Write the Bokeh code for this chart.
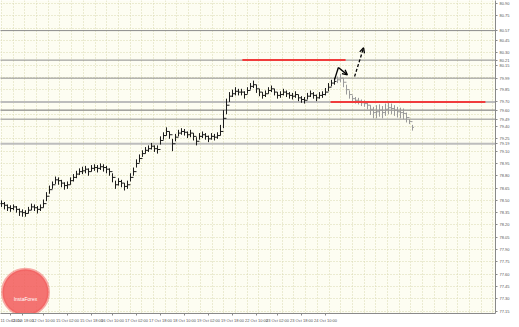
from bokeh.plotting import figure
from bokeh.models import Range1d, FixedTicker, Label, Arrow, OpenHead
from bokeh.embed import file_html
from bokeh.resources import INLINE

# ---------------- data ----------------
close = [
    78.46, 78.44, 78.41, 78.40, 78.42, 78.39, 78.36, 78.35, 78.34, 78.38,
    78.42, 78.41, 78.39, 78.41, 78.46, 78.55, 78.63, 78.69, 78.75, 78.74,
    78.71, 78.68, 78.69, 78.74, 78.78, 78.82, 78.85, 78.86, 78.88, 78.85,
    78.89, 78.90, 78.89, 78.91, 78.90, 78.88, 78.85, 78.78, 78.69, 78.73,
    78.71, 78.67, 78.69, 78.78, 78.85, 78.95, 79.01, 79.07, 79.11, 79.13,
    79.16, 79.13, 79.12, 79.23, 79.29, 79.34, 79.30, 79.19, 79.27, 79.32,
    79.34, 79.33, 79.30, 79.32, 79.28, 79.22, 79.28, 79.30, 79.28, 79.25,
    79.28, 79.27, 79.29, 79.34, 79.50, 79.66, 79.77, 79.80, 79.83, 79.82,
    79.82, 79.79, 79.84, 79.89, 79.91, 79.86, 79.82, 79.78, 79.80, 79.84,
    79.86, 79.82, 79.78, 79.79, 79.82, 79.80, 79.78, 79.77, 79.79, 79.75,
    79.73, 79.72, 79.77, 79.80, 79.78, 79.75, 79.78, 79.79, 79.82, 79.88,
    79.93, 79.95, 79.97, 79.99, 79.94, 79.85, 79.79, 79.74, 79.72, 79.71,
    79.69, 79.68, 79.66, 79.61, 79.57, 79.58, 79.60, 79.57, 79.61, 79.63,
    79.62, 79.60, 79.58, 79.57, 79.56, 79.51, 79.46, 79.39]
high = [
    78.50, 78.48, 78.45, 78.44, 78.45, 78.43, 78.40, 78.39, 78.38, 78.42,
    78.46, 78.45, 78.43, 78.45, 78.51, 78.60, 78.68, 78.73, 78.79, 78.78,
    78.75, 78.72, 78.73, 78.78, 78.82, 78.86, 78.89, 78.91, 78.92, 78.89,
    78.93, 78.94, 78.93, 78.95, 78.94, 78.92, 78.89, 78.83, 78.74, 78.77,
    78.75, 78.71, 78.74, 78.83, 78.90, 79.00, 79.06, 79.11, 79.15, 79.17,
    79.20, 79.17, 79.17, 79.28, 79.33, 79.39, 79.34, 79.25, 79.31, 79.36,
    79.38, 79.37, 79.34, 79.36, 79.32, 79.27, 79.32, 79.34, 79.32, 79.29,
    79.32, 79.31, 79.33, 79.42, 79.60, 79.74, 79.82, 79.85, 79.88, 79.86,
    79.86, 79.83, 79.88, 79.93, 79.96, 79.91, 79.86, 79.82, 79.84, 79.88,
    79.90, 79.86, 79.82, 79.83, 79.86, 79.84, 79.82, 79.81, 79.83, 79.79,
    79.77, 79.76, 79.81, 79.84, 79.82, 79.79, 79.82, 79.83, 79.87, 79.93,
    79.97, 79.99, 80.01, 80.04, 79.99, 79.91, 79.84, 79.78, 79.76, 79.75,
    79.73, 79.72, 79.70, 79.66, 79.64, 79.66, 79.67, 79.65, 79.68, 79.69,
    79.68, 79.66, 79.64, 79.63, 79.62, 79.57, 79.49, 79.42]
low = [
    78.42, 78.39, 78.37, 78.36, 78.38, 78.35, 78.31, 78.30, 78.30, 78.34,
    78.38, 78.37, 78.34, 78.37, 78.41, 78.49, 78.58, 78.64, 78.70, 78.69,
    78.66, 78.63, 78.64, 78.69, 78.73, 78.77, 78.81, 78.82, 78.83, 78.80,
    78.85, 78.86, 78.84, 78.87, 78.85, 78.83, 78.80, 78.72, 78.64, 78.68,
    78.66, 78.62, 78.64, 78.73, 78.80, 78.90, 78.96, 79.03, 79.07, 79.09,
    79.12, 79.09, 79.07, 79.18, 79.24, 79.29, 79.25, 79.10, 79.22, 79.28,
    79.30, 79.29, 79.26, 79.27, 79.23, 79.17, 79.24, 79.26, 79.24, 79.21,
    79.24, 79.23, 79.25, 79.29, 79.38, 79.55, 79.70, 79.76, 79.78, 79.78,
    79.78, 79.74, 79.80, 79.85, 79.87, 79.81, 79.77, 79.74, 79.76, 79.80,
    79.82, 79.78, 79.74, 79.75, 79.78, 79.76, 79.74, 79.73, 79.75, 79.71,
    79.69, 79.68, 79.73, 79.76, 79.74, 79.71, 79.74, 79.75, 79.78, 79.83,
    79.89, 79.91, 79.93, 79.94, 79.88, 79.79, 79.74, 79.70, 79.68, 79.67,
    79.65, 79.64, 79.61, 79.54, 79.50, 79.50, 79.52, 79.50, 79.53, 79.55,
    79.55, 79.53, 79.51, 79.50, 79.49, 79.45, 79.43, 79.35]
gray_from = 112  # bars from this index are drawn faded

time_labels = ["11 Oct 2012", "11 Oct 18:00", "12 Oct 10:00", "15 Oct 02:00",
               "15 Oct 18:00", "16 Oct 10:00", "17 Oct 02:00", "17 Oct 18:00",
               "18 Oct 10:00", "19 Oct 02:00", "19 Oct 18:00", "22 Oct 10:00",
               "23 Oct 02:00", "23 Oct 18:00", "24 Oct 10:00"]
time_pos = [3, 7, 14, 22, 30, 37, 45, 53, 61, 69, 77, 85, 92, 100, 108]

price_ticks = [77.15, 77.30, 77.45, 77.60, 77.75, 77.90, 78.05, 78.20, 78.35,
               78.50, 78.65, 78.80, 78.95, 79.10, 79.25, 79.40, 79.55, 79.70,
               79.85, 80.00, 80.15, 80.30, 80.45, 80.60, 80.75, 80.90]

levels = [80.57, 80.21, 79.99, 79.70, 79.60, 79.49, 79.19]
level_widths = [1, 1, 1, 2, 1, 1, 2]
level_colors = ["#8c8c8c", "#8c8c8c", "#8c8c8c", "#bdbdbd", "#6e6e6e", "#8c8c8c", "#bdbdbd"]

red_levels = [80.21, 79.70]
red_x0 = [80.3, 109.7]
red_x1 = [114.7, 161.3]

zig_x = [111.0, 112.3, 115.3]
zig_y = [79.97, 80.12, 80.03]
dash_x = [117.7, 120.7]
dash_y = [80.01, 80.36]

logo_x = 8
logo_y = 77.38

# ---------------- figure ----------------
p = figure(width=519, height=327, output_backend="svg", toolbar_location=None,
           x_range=Range1d(-0.33, 164.67), y_range=Range1d(77.120, 80.937),
           y_axis_location="right", min_border_left=0, min_border_top=0,
           min_border_right=24, min_border_bottom=14)
p.background_fill_color = "#fdfdf2"
p.border_fill_color = "white"
p.outline_line_color = None

# grid
p.xgrid.ticker = FixedTicker(ticks=[i * 3.9 for i in range(43)])
p.ygrid.ticker = FixedTicker(ticks=price_ticks)
for g in (p.xgrid, p.ygrid):
    g.grid_line_color = "#d8d8b0"
    g.grid_line_dash = "1 2"
    g.grid_line_width = 1

# axes: regular price ticks plus the marked level prices (those replace nearby ticks)
axis_ticks = sorted([t for t in price_ticks
                     if all(abs(t - lv) > 0.055 for lv in levels)] + levels)
xa = p.xaxis[0]
xa.ticker = FixedTicker(ticks=time_pos)
xa.major_label_overrides = {t: s for t, s in zip(time_pos, time_labels)}
ya = p.yaxis[0]
ya.ticker = FixedTicker(ticks=axis_ticks)
ya.major_label_overrides = {t: f"{t:.2f}" for t in axis_ticks}
for ax in (xa, ya):
    ax.major_label_text_font_size = "4px"
    ax.major_label_text_color = "#555555"
    ax.axis_line_color = "#8a8a8a"
    ax.major_tick_line_color = "#8a8a8a"
    ax.major_tick_out = 2
    ax.major_tick_in = 0
    ax.minor_tick_line_color = None
    ax.major_label_standoff = 2

# level lines
for lv, w, c in zip(levels, level_widths, level_colors):
    p.segment(x0=-1, y0=lv, x1=170, y1=lv, line_color=c, line_width=w)

# logo badge
p.scatter(x=[logo_x], y=[logo_y], size=46, marker="circle", fill_color="#f25a5a",
          fill_alpha=0.85, line_color="#f25a5a", line_alpha=0.5, line_width=3)
p.add_layout(Label(x=logo_x, y=logo_y, text="InstaForex", text_font_size="5px",
                   text_color="white", text_align="center", text_baseline="top",
                   y_offset=-4))

# bars (OHLC: open tick left, close tick right)
idx = list(range(len(close)))
opens = [close[0]] + close[:-1]
for lo, hi, col in ((0, gray_from, "#1a1a1a"), (gray_from, len(close), "#9a9a9a")):
    xs = idx[lo:hi]
    p.segment(x0=xs, y0=low[lo:hi], x1=xs, y1=high[lo:hi], line_color=col, line_width=1)
    p.segment(x0=xs, y0=close[lo:hi], x1=[x + 0.5 for x in xs], y1=close[lo:hi],
              line_color=col, line_width=1)
    p.segment(x0=[x - 0.5 for x in xs], y0=opens[lo:hi], x1=xs, y1=opens[lo:hi],
              line_color=col, line_width=1)

# red levels
p.segment(x0=red_x0, y0=red_levels, x1=red_x1, y1=red_levels,
          line_color="#f03c3c", line_width=2)

# arrows
p.line(zig_x[:2], zig_y[:2], line_color="black", line_width=1.3)
p.add_layout(Arrow(x_start=zig_x[1], y_start=zig_y[1], x_end=zig_x[2], y_end=zig_y[2],
                   line_color="black", line_width=1.3,
                   end=OpenHead(size=5, line_color="black", line_width=1.3)))
p.add_layout(Arrow(x_start=dash_x[0], y_start=dash_y[0], x_end=dash_x[1], y_end=dash_y[1],
                   line_color="black", line_width=1.3, line_dash="3 2",
                   end=OpenHead(size=5, line_color="black", line_width=1.3)))

open("out.html", "w").write(file_html(p, INLINE))
